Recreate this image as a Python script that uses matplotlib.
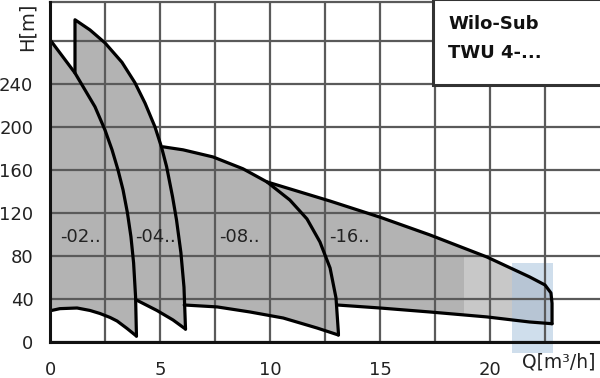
import matplotlib
matplotlib.use("Agg")
import matplotlib.pyplot as plt
from matplotlib.patches import Rectangle

# ---- data ----
# -02
q02_up = [0.0, 1.136, 2.045, 2.5, 2.82, 3.09, 3.32, 3.52, 3.68, 3.8, 3.89, 3.93]
h02_up = [281, 250, 218.6, 197, 178.6, 160, 141.4, 120, 97.7, 73.5, 41.9, 5.5]
q02_lo = [0.0, 0.45, 1.23, 1.82, 2.27, 2.73, 3.05, 3.5, 3.93]
h02_lo = [29, 31, 31.6, 29.3, 26.5, 22.8, 19.5, 12.6, 5.5]
# -04
q04_up = [1.136, 1.136, 1.82, 2.5, 3.27, 3.86, 4.32, 4.77, 5.07, 5.3, 5.57, 5.75, 5.95, 6.09, 6.16]
h04_up = [250, 299.5, 290, 278, 260, 241, 222, 200, 181, 163, 135, 113.5, 83, 51, 12]
q04_lo = [3.93, 4.86, 5.59, 6.16]
h04_lo = [39, 29.3, 20.5, 12]
# -08
q08_up = [5.14, 6.05, 7.41, 8.77, 9.86, 10.9, 11.68, 12.27, 12.73, 13.0, 13.11, 13.11]
h08_up = [181.4, 178.6, 172, 161, 148.8, 132, 114.4, 93, 68.8, 41, 8.4, 6.5]
q08_lo = [6.1, 7.6, 9.09, 10.6, 12.14, 13.11]
h08_lo = [34.4, 32.6, 27.9, 22.3, 13, 6.5]
# -16
q16_up = [9.86, 12.73, 15.0, 17.27, 19.86, 21.8, 22.5, 22.77, 22.82, 22.82]
h16_up = [148.8, 131, 116, 99.5, 79, 60.5, 53, 45.6, 36, 17]
q16_lo = [13.05, 15.0, 17.27, 19.86, 21.8, 22.82]
h16_lo = [34.4, 31.6, 27.9, 23.3, 18.6, 17]

labels = ["-02..", "-04..", "-08..", "-16.."]
label_q = [1.4, 4.8, 8.6, 13.6]
label_h = [98, 98, 98, 98]

xticks = [0, 5, 10, 15, 20]
yticks = [0, 40, 80, 120, 160, 200, 240]

FILL = "#b3b3b3"
GRID = "#5a5a5a"

fig = plt.figure(figsize=(6.0, 3.78), dpi=100)
ax = fig.add_axes([50/600, 36/378, 550/600, 340/378])
ax.set_xlim(0, 25)
ax.set_ylim(0, 316)

def fill_region(qu, hu, ql, hl, extra_q=(), extra_h=()):
    pq = list(qu) + list(ql[::-1]) + list(extra_q)
    ph = list(hu) + list(hl[::-1]) + list(extra_h)
    ax.fill(pq, ph, color=FILL, lw=0, zorder=1)

fill_region(q02_up, h02_up, q02_lo, h02_lo)
fill_region(q04_up, h04_up, q04_lo, h04_lo)
fill_region(q08_up, h08_up, q08_lo, h08_lo, q04_up[-4:-10:-1], h04_up[-4:-10:-1])
fill_region(q16_up, h16_up, q16_lo, h16_lo, q08_up[-3:-8:-1], h08_up[-3:-8:-1])

# faint watermark patches
ax.add_patch(Rectangle((18.8, 0), 4.2, 79, color="white", alpha=0.28, lw=0, zorder=2))
ax.add_patch(Rectangle((21.0, -10), 1.86, 83, color="#a9c3de", alpha=0.55, lw=0, zorder=2, clip_on=False))

# grid
ax.set_xticks(xticks)
ax.set_xticks([2.5, 7.5, 12.5, 17.5, 22.5], minor=True)
ax.set_yticks(yticks)
ax.set_yticks([280], minor=True)
ax.grid(True, which="both", color=GRID, lw=1.6, zorder=3)
ax.set_axisbelow(False)
for gl in ax.get_xgridlines() + ax.get_ygridlines():
    gl.set_zorder(3)
ax.tick_params(which="both", length=0, labelsize=13, colors="#222222")
ax.tick_params(axis="y", pad=12)
ax.tick_params(axis="x", pad=14)

# curves
LW = 2.3
for q, h in [(q02_up, h02_up), (q02_lo, h02_lo), (q04_up, h04_up), (q04_lo, h04_lo),
             (q08_up, h08_up), (q08_lo, h08_lo), (q16_up, h16_up), (q16_lo, h16_lo)]:
    ax.plot(q, h, color="black", lw=LW, zorder=5, solid_joinstyle="round", solid_capstyle="round")

for t, xq, yh in zip(labels, label_q, label_h):
    ax.text(xq, yh, t, fontsize=13, color="#222222", ha="center", va="center", zorder=6)

# legend box
ax.add_patch(Rectangle((17.4, 239), 7.7, 80, facecolor="white", edgecolor="#333333", lw=2.2,
                       zorder=7, clip_on=False))
ax.text(18.1, 296, "Wilo-Sub", fontsize=13, fontweight="bold", color="#111111", va="center", ha="left", zorder=8)
ax.text(18.1, 269, "TWU 4-...", fontsize=13, fontweight="bold", color="#111111", va="center", ha="left", zorder=8)

for s in ["left", "bottom"]:
    ax.spines[s].set_linewidth(2.2)
    ax.spines[s].set_color("#111111")
    ax.spines[s].set_zorder(9)
ax.spines["top"].set_linewidth(1.6)
ax.spines["top"].set_color(GRID)
ax.spines["right"].set_visible(False)

fig.text(27/600, 1 - 27/378, "H[m]", rotation=90, fontsize=14, color="#222222", ha="center", va="center")
fig.text(559/600, 1 - 362/378, "Q[m³/h]", fontsize=13.5, color="#222222", ha="center", va="center")

fig.savefig("out.png", dpi=100)
